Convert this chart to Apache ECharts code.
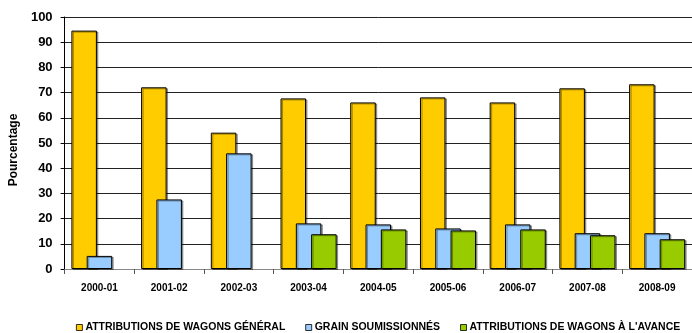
<!DOCTYPE html>
<html>
<head>
<meta charset="utf-8">
<script src="https://cdn.jsdelivr.net/npm/echarts@6/dist/echarts.min.js"></script>
<style>
  html, body { margin: 0; padding: 0; background: #fff; }
  #chart { width: 692px; height: 333px; }
</style>
</head>
<body>
<div id="chart"></div>
<script>
// Campagnes agricoles
const categories = ['2000-01', '2001-02', '2002-03', '2003-04', '2004-05', '2005-06', '2006-07', '2007-08', '2008-09'];

// Pourcentages par type d'attribution
const attributionsGeneral = [94.6, 72.1, 54.1, 67.7, 66.1, 68.1, 66.1, 71.7, 73.3];
const grainSoumissionnes = [5.2, 27.6, 45.9, 18.1, 17.7, 16.1, 17.7, 14.2, 14.2];
const attributionsAvance = [null, null, null, 13.8, 15.7, 15.3, 15.7, 13.4, 11.8];

const seriesNames = [
  'ATTRIBUTIONS DE WAGONS GÉNÉRAL',
  'GRAIN SOUMISSIONNÉS',
  'ATTRIBUTIONS DE WAGONS À L\'AVANCE'
];

const yTicks = { min: 0, max: 100, interval: 10 };
const yTitle = 'Pourcentage';

const font = 'Arial, "Liberation Sans", sans-serif';
const barStyle = (color) => ({
  color: color,
  borderColor: '#000',
  borderWidth: 1,
  shadowColor: 'rgba(0,0,0,0.35)',
  shadowOffsetX: 1.5,
  shadowOffsetY: 1,
  shadowBlur: 0
});

const chart = echarts.init(document.getElementById('chart'), null, { renderer: 'canvas' });

chart.setOption({
  animation: false,
  backgroundColor: '#fff',
  grid: { left: 60, top: 17, bottom: 64, right: -3, containLabel: false },
  legend: {
    bottom: -5,
    left: 71,
    itemWidth: 6,
    itemHeight: 6,
    itemGap: 20,
    icon: 'rect',
    textStyle: { fontFamily: font, fontWeight: 'bold', fontSize: 10.5, color: '#000', padding: [0, 0, 0, -2] },
    data: seriesNames.map(n => ({ name: n, itemStyle: { borderColor: '#000', borderWidth: 0.8 } }))
  },
  xAxis: {
    type: 'category',
    data: categories,
    axisLine: { show: true, lineStyle: { color: '#888', width: 1 } },
    axisTick: { show: true, length: 5, lineStyle: { color: '#555' } },
    axisLabel: { fontFamily: font, fontWeight: 'bold', fontSize: 10, color: '#000', margin: 14 }
  },
  yAxis: {
    type: 'value',
    min: yTicks.min,
    max: yTicks.max,
    interval: yTicks.interval,
    name: yTitle,
    nameLocation: 'middle',
    nameRotate: 90,
    nameGap: 34,
    nameTextStyle: { fontFamily: font, fontWeight: 'bold', fontSize: 12, color: '#000', padding: [0, 14, 0, 0] },
    axisLine: { show: true, lineStyle: { color: '#000', width: 1 } },
    axisTick: { show: true, length: 4, lineStyle: { color: '#000' } },
    axisLabel: { fontFamily: font, fontWeight: 'bold', fontSize: 13, color: '#000', margin: 12 },
    splitLine: { show: true, lineStyle: { color: '#222', width: 1 } }
  },
  series: [
    {
      name: seriesNames[0], type: 'bar', data: attributionsGeneral,
      barWidth: 25.5, barGap: '-40%', itemStyle: barStyle('#FFCC00')
    },
    {
      name: seriesNames[1], type: 'bar', data: grainSoumissionnes,
      barWidth: 25.5, barGap: '-40%', itemStyle: barStyle('#99CCFF')
    },
    {
      name: seriesNames[2], type: 'bar', data: attributionsAvance,
      barWidth: 25.5, barGap: '-40%', itemStyle: barStyle('#99CC00')
    }
  ]
});
</script>
</body>
</html>
